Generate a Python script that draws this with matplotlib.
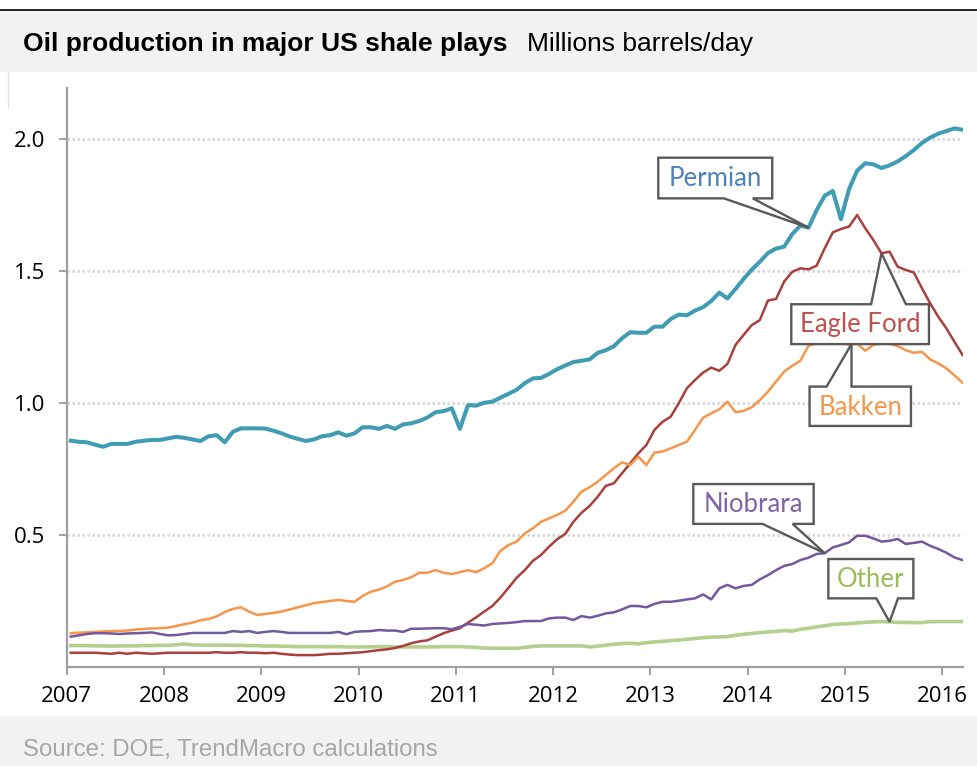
import matplotlib
matplotlib.use("Agg")
import matplotlib.pyplot as plt
import numpy as np
import pandas as pd
from matplotlib.patches import Polygon, Rectangle
from matplotlib.lines import Line2D

# ---------------- data (millions barrels/day, monthly Jan 2007 - Mar 2016) ----------------
months = pd.date_range("2007-01-01", periods=111, freq="MS")

permian = [0.857, 0.853, 0.851, 0.842, 0.834, 0.845, 0.845, 0.845, 0.853, 0.857,
           0.860, 0.860, 0.866, 0.872, 0.868, 0.862, 0.856, 0.874, 0.878, 0.851,
           0.891, 0.904, 0.904, 0.904, 0.903, 0.895, 0.885, 0.873, 0.864, 0.856,
           0.862, 0.874, 0.878, 0.889, 0.876, 0.885, 0.908, 0.908, 0.902, 0.913,
           0.902, 0.919, 0.923, 0.932, 0.945, 0.965, 0.969, 0.980, 0.902, 0.992,
           0.990, 1.001, 1.005, 1.020, 1.035, 1.050, 1.075, 1.093, 1.095, 1.110,
           1.128, 1.142, 1.155, 1.160, 1.165, 1.190, 1.200, 1.215, 1.245, 1.268,
           1.266, 1.266, 1.289, 1.289, 1.318, 1.335, 1.332, 1.350, 1.363, 1.386,
           1.418, 1.396, 1.432, 1.470, 1.505, 1.535, 1.568, 1.585, 1.592, 1.640,
           1.672, 1.664, 1.730, 1.785, 1.803, 1.696, 1.810, 1.880, 1.908, 1.904,
           1.890, 1.900, 1.915, 1.935, 1.958, 1.985, 2.005, 2.020, 2.030, 2.040, 2.035]

eagle_ford = [0.054, 0.054, 0.054, 0.054, 0.052, 0.050, 0.054, 0.050, 0.054, 0.052,
              0.050, 0.052, 0.054, 0.054, 0.054, 0.054, 0.054, 0.054, 0.056, 0.054,
              0.054, 0.056, 0.054, 0.054, 0.052, 0.054, 0.050, 0.047, 0.045, 0.045,
              0.045, 0.047, 0.050, 0.050, 0.052, 0.054, 0.056, 0.060, 0.064, 0.067,
              0.072, 0.080, 0.090, 0.097, 0.101, 0.115, 0.128, 0.138, 0.147, 0.168,
              0.188, 0.210, 0.231, 0.263, 0.300, 0.338, 0.367, 0.402, 0.424, 0.456,
              0.484, 0.504, 0.550, 0.584, 0.610, 0.645, 0.686, 0.696, 0.734, 0.771,
              0.809, 0.841, 0.898, 0.929, 0.948, 0.999, 1.056, 1.087, 1.115, 1.134,
              1.122, 1.148, 1.220, 1.258, 1.295, 1.314, 1.388, 1.394, 1.460, 1.497,
              1.510, 1.506, 1.520, 1.586, 1.646, 1.659, 1.668, 1.712, 1.662, 1.617,
              1.567, 1.573, 1.516, 1.504, 1.494, 1.434, 1.378, 1.327, 1.283, 1.232, 1.182]

bakken = [0.128, 0.130, 0.131, 0.133, 0.135, 0.136, 0.137, 0.138, 0.142, 0.144,
          0.146, 0.147, 0.149, 0.155, 0.162, 0.168, 0.177, 0.182, 0.192, 0.208,
          0.220, 0.226, 0.210, 0.197, 0.201, 0.205, 0.210, 0.218, 0.226, 0.234,
          0.242, 0.246, 0.250, 0.254, 0.250, 0.247, 0.269, 0.285, 0.293, 0.305,
          0.323, 0.330, 0.340, 0.357, 0.357, 0.367, 0.357, 0.352, 0.359, 0.367,
          0.359, 0.374, 0.393, 0.440, 0.462, 0.475, 0.506, 0.525, 0.550, 0.563,
          0.576, 0.592, 0.626, 0.664, 0.681, 0.702, 0.727, 0.753, 0.775, 0.765,
          0.797, 0.765, 0.812, 0.816, 0.828, 0.841, 0.853, 0.898, 0.944, 0.961,
          0.976, 1.005, 0.965, 0.970, 0.984, 1.011, 1.043, 1.081, 1.119, 1.141,
          1.160, 1.217, 1.225, 1.230, 1.235, 1.230, 1.220, 1.225, 1.198, 1.220,
          1.225, 1.225, 1.215, 1.200, 1.190, 1.194, 1.165, 1.150, 1.131, 1.105, 1.077]

niobrara = [0.115, 0.120, 0.125, 0.128, 0.128, 0.127, 0.125, 0.127, 0.128, 0.129,
            0.131, 0.125, 0.120, 0.121, 0.125, 0.129, 0.129, 0.129, 0.129, 0.129,
            0.136, 0.133, 0.136, 0.129, 0.133, 0.136, 0.133, 0.129, 0.129, 0.129,
            0.129, 0.129, 0.129, 0.133, 0.124, 0.133, 0.135, 0.136, 0.140, 0.138,
            0.138, 0.133, 0.145, 0.145, 0.146, 0.147, 0.147, 0.143, 0.152, 0.163,
            0.160, 0.157, 0.163, 0.165, 0.167, 0.170, 0.174, 0.174, 0.174, 0.184,
            0.187, 0.187, 0.178, 0.193, 0.187, 0.194, 0.203, 0.207, 0.218, 0.231,
            0.231, 0.226, 0.239, 0.247, 0.247, 0.251, 0.256, 0.260, 0.275, 0.256,
            0.298, 0.311, 0.298, 0.307, 0.311, 0.332, 0.348, 0.367, 0.383, 0.390,
            0.405, 0.414, 0.428, 0.431, 0.453, 0.462, 0.472, 0.497, 0.497, 0.487,
            0.475, 0.478, 0.485, 0.466, 0.470, 0.475, 0.459, 0.447, 0.433, 0.415, 0.405]

other = [0.081, 0.081, 0.081, 0.080, 0.080, 0.079, 0.080, 0.080, 0.080, 0.081,
         0.081, 0.082, 0.082, 0.084, 0.087, 0.084, 0.083, 0.083, 0.083, 0.083,
         0.082, 0.082, 0.081, 0.081, 0.079, 0.080, 0.079, 0.078, 0.077, 0.077,
         0.077, 0.077, 0.077, 0.077, 0.076, 0.076, 0.076, 0.076, 0.077, 0.077,
         0.076, 0.076, 0.076, 0.076, 0.076, 0.076, 0.077, 0.077, 0.077, 0.076,
         0.074, 0.072, 0.071, 0.071, 0.071, 0.071, 0.074, 0.078, 0.080, 0.080,
         0.080, 0.080, 0.080, 0.080, 0.076, 0.079, 0.083, 0.086, 0.089, 0.090,
         0.088, 0.092, 0.095, 0.097, 0.100, 0.102, 0.105, 0.108, 0.111, 0.113,
         0.114, 0.115, 0.120, 0.124, 0.127, 0.130, 0.133, 0.135, 0.138, 0.136,
         0.143, 0.147, 0.152, 0.156, 0.161, 0.163, 0.164, 0.167, 0.169, 0.171,
         0.172, 0.171, 0.169, 0.169, 0.168, 0.168, 0.172, 0.172, 0.172, 0.172, 0.172]

year_ticks = [2007, 2008, 2009, 2010, 2011, 2012, 2013, 2014, 2015, 2016]
value_ticks = [0.5, 1.0, 1.5, 2.0]

title = "Oil production in major US shale plays"
subtitle = "Millions barrels/day"
source = "Source: DOE, TrendMacro calculations"

# ---------------- figure ----------------
W, H = 978, 766
fig = plt.figure(figsize=(W / 100, H / 100), dpi=100)
fig.patch.set_facecolor("white")

def fy(py):
    return 1 - py / H

# header band and top rule
fig.add_artist(Rectangle((0, fy(72)), 1, (72 - 10) / H, transform=fig.transFigure,
                         facecolor="#f2f2f2", edgecolor="none", zorder=0))
fig.add_artist(Line2D([0, 1], [fy(10), fy(10)], transform=fig.transFigure,
                      color="black", lw=1.2, zorder=1))
fig.add_artist(Line2D([8 / W, 8 / W], [fy(72), fy(108)], transform=fig.transFigure,
                      color="#e3e3e3", lw=1.0, zorder=1))
# footer band
fig.add_artist(Rectangle((0, 0), 1, (H - 716) / H, transform=fig.transFigure,
                         facecolor="#f2f2f2", edgecolor="none", zorder=0))

fig.text(23 / W, fy(51), title, fontsize=19, fontweight="bold",
         family="Liberation Sans", va="baseline", ha="left", color="black")
fig.text(527 / W, fy(51), subtitle, fontsize=19, family="Liberation Sans",
         va="baseline", ha="left", color="black")
fig.text(23 / W, fy(756), source, fontsize=17.3, family="Liberation Sans",
         va="baseline", ha="left", color="#a6a6a6")

# ---------------- axes ----------------
ax = fig.add_axes([66.7 / W, (H - 667) / H, (962.7 - 66.7) / W, (667 - 88) / H])
ax.set_facecolor("none")
x = months.year + (months.month - 0.5) / 12.0

ax.plot(x, other, color="#b5cf8e", lw=2.6, zorder=3, solid_joinstyle="round")
ax.plot(x, eagle_ford, color="#a9403d", lw=1.8, zorder=3)
ax.plot(x, bakken, color="#f7964a", lw=1.8, zorder=3)
ax.plot(x, niobrara, color="#72589c", lw=1.8, zorder=3)
ax.plot(x, permian, color="#3f9cb3", lw=2.9, zorder=3)

ax.set_xlim(2007, 2016.21)
ax.set_ylim(0, 2.193)
ax.set_xticks(year_ticks)
ax.set_xticklabels([str(y) for y in year_ticks])
ax.set_yticks(value_ticks)
ax.set_yticklabels([f"{v:.1f}" for v in value_ticks])

for s in ["top", "right"]:
    ax.spines[s].set_visible(False)
for s in ["left", "bottom"]:
    ax.spines[s].set_color("#a0a0a0")
    ax.spines[s].set_linewidth(1.6)
ax.tick_params(axis="both", direction="out", length=5.5, width=1.4, color="#a0a0a0",
               labelsize=16, labelcolor="black")
ax.tick_params(axis="y", pad=10)
ax.tick_params(axis="x", pad=8.5)
for lab in ax.get_xticklabels() + ax.get_yticklabels():
    lab.set_family("Open Sans")

ax.grid(axis="y", linestyle=(0, (1.0, 1.0)), color="#d4d4d4", lw=1.8, zorder=1)
ax.set_axisbelow(True)

# ---------------- callouts ----------------
def xm(i):
    return x[i]

def callout(text, color, box, base, tip, side):
    L, R, B, T = box
    b1, b2 = base
    if side == "bottom":
        pts = [(L, T), (R, T), (R, B), (b2, B), tip, (b1, B), (L, B)]
    else:
        pts = [(L, T), (b1, T), tip, (b2, T), (R, T), (R, B), (L, B)]
    poly = Polygon(pts, closed=True, facecolor="white", edgecolor="#595959",
                   lw=1.7, joinstyle="miter", zorder=5)
    ax.add_patch(poly)
    ax.text((L + R) / 2, (B + T) / 2 - 0.003, text, color=color, fontsize=18.5,
            family="Lato", ha="center", va="center", zorder=6)

callout("Permian", "#4f81bd", (2013.081, 2014.252, 1.775, 1.929),
        (2013.755, 2014.052), (xm(91), permian[91]), "bottom")
callout("Eagle Ford", "#c0504d", (2014.448, 2015.863, 1.223, 1.374),
        (2015.269, 2015.626), (xm(100), eagle_ford[100]), "top")
callout("Bakken", "#f79646", (2014.636, 2015.678, 0.913, 1.062),
        (2014.811, 2015.067), (2015.067, 1.223), "top")
callout("Niobrara", "#8064a2", (2013.441, 2014.678, 0.542, 0.693),
        (2014.152, 2014.462), (xm(93), niobrara[93]), "bottom")
callout("Other", "#9bbb59", (2014.829, 2015.703, 0.260, 0.409),
        (2015.322, 2015.545), (xm(101), other[101]), "bottom")

fig.savefig("out.png", dpi=100)
